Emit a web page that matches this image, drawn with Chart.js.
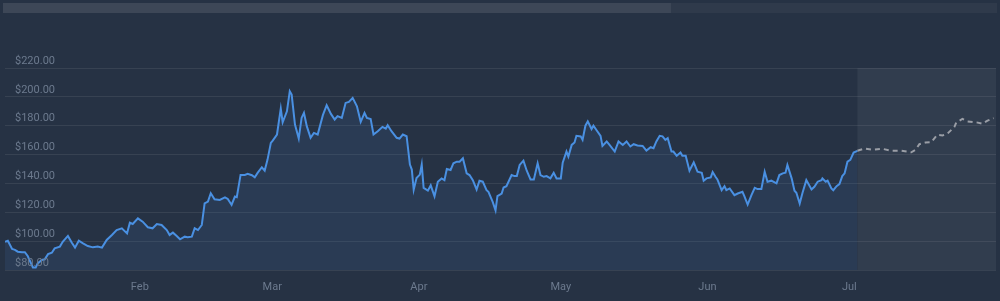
<!DOCTYPE html>
<html>
<head>
<meta charset="utf-8">
<script src="https://cdn.jsdelivr.net/npm/chart.js@4"></script>
<style>
  html, body { margin: 0; padding: 0; background: #263244; }
  #wrap { width: 1000px; height: 301px; position: relative; }
</style>
</head>
<body>
<div id="wrap"><canvas id="chart"></canvas></div>
<script>
// day of year (Jan 1 = 0) and closing price
const days = [
  2.5, 3.1, 4.0, 4.6, 5.2, 6.1, 6.7, 7.3, 8.4, 9.0, 9.4, 10.3, 10.9, 11.6, 12.4, 13.0, 14.1, 14.7, 15.8, 16.6,
  17.3, 18.1, 19.0, 20.0, 21.1, 22.1, 23.0, 24.0, 25.1, 26.1, 27.2, 28.3, 28.9, 29.5, 30.6, 31.6, 32.7, 33.7, 34.6, 35.6,
  36.7, 37.3, 38.0, 38.8, 39.5, 40.5, 41.1, 42.0, 42.6, 43.3, 44.1, 44.7, 45.4, 46.0, 46.8, 47.9, 49.0, 49.6, 50.4, 51.1,
  51.5, 52.3, 53.2, 53.8, 54.7, 55.3, 55.9, 56.8, 57.4, 58.0, 58.7, 59.1, 60.0, 60.8, 61.2, 62.1, 62.7, 63.1, 63.8, 64.6,
  65.2, 65.7, 66.3, 67.1, 67.8, 68.6, 69.7, 70.5, 71.4, 72.2, 72.8, 73.7, 74.5, 75.2, 76.0, 76.9, 77.7, 78.5, 79.0, 79.8,
  80.4, 81.3, 82.3, 83.0, 83.4, 84.2, 85.3, 85.9, 86.6, 87.4, 88.1, 88.5, 88.9, 89.5, 90.2, 90.6, 91.0, 91.9, 92.5, 93.3,
  94.0, 94.8, 95.4, 95.9, 96.7, 97.3, 98.0, 98.6, 99.3, 100.1, 100.7, 101.4, 102.2, 102.8, 103.5, 104.3, 104.7, 105.6, 106.2, 106.6,
  107.5, 107.9, 108.5, 109.6, 110.2, 110.7, 111.3, 112.1, 112.8, 113.6, 114.3, 115.1, 115.7, 116.4, 117.0, 117.8, 118.5, 119.1, 120.0, 120.4,
  121.2, 121.6, 122.3, 122.9, 123.3, 124.2, 124.6, 125.2, 125.7, 126.5, 126.9, 127.6, 128.4, 128.8, 129.7, 130.3, 131.4, 132.2, 133.1, 133.9,
  134.7, 135.4, 136.2, 137.3, 138.1, 139.0, 139.6, 140.2, 140.9, 141.5, 142.1, 142.6, 143.4, 143.8, 144.5, 145.3, 145.7, 146.4, 147.2, 148.1,
  148.9, 149.8, 150.2, 150.8, 151.7, 152.1, 152.7, 153.1, 154.0, 154.6, 155.0, 155.7, 156.7, 157.4, 158.4, 158.8, 159.5, 160.3, 161.0, 161.6,
  162.4, 163.1, 163.7, 164.5, 165.6, 166.2, 166.9, 167.5, 167.9, 168.8, 169.4, 169.8, 170.5, 171.1, 171.9, 173.0, 173.6, 174.3, 175.1, 175.3,
  176.0, 176.4, 177.2, 177.6, 178.3, 178.9, 179.5, 180.0, 180.6, 181.2, 181.9, 182.7
];
const prices = [
  99.6, 100.3, 94.6, 94.0, 92.7, 92.3, 92.3, 89.7, 81.8, 81.8, 84.6, 87.0, 87.4, 91.0, 92.0, 95.0, 96.2, 99.6, 103.6, 99.0,
  95.5, 100.3, 98.5, 96.6, 95.7, 96.2, 95.5, 100.8, 104.3, 107.7, 108.9, 105.4, 112.8, 111.9, 115.8, 113.5, 109.6, 108.9, 111.9, 111.2,
  107.7, 104.3, 105.9, 103.6, 101.3, 103.1, 102.7, 103.1, 108.9, 107.7, 111.2, 126.2, 127.4, 133.2, 129.0, 128.6, 130.4, 129.2, 125.1, 130.9,
  130.5, 145.9, 145.9, 146.6, 145.7, 144.3, 147.3, 151.2, 148.9, 156.5, 168.1, 169.7, 173.9, 191.9, 182.4, 190.0, 203.9, 201.6, 180.8, 171.1,
  185.4, 188.9, 179.7, 171.6, 175.0, 173.9, 187.3, 194.2, 188.2, 184.3, 186.6, 185.4, 195.8, 196.5, 199.3, 193.5, 182.7, 188.9, 185.4, 184.7,
  173.9, 176.2, 179.2, 178.0, 180.3, 176.2, 171.6, 171.1, 173.9, 172.7, 153.1, 149.6, 135.7, 143.8, 146.1, 153.1, 136.9, 135.0, 138.7, 131.1,
  141.2, 143.5, 142.3, 150.0, 149.3, 154.0, 155.1, 155.1, 157.4, 147.0, 145.8, 142.3, 135.8, 141.9, 141.2, 135.3, 134.2, 127.2, 121.4, 131.2,
  133.0, 137.2, 138.1, 145.8, 145.1, 145.1, 152.8, 155.8, 148.8, 142.8, 142.8, 153.9, 145.8, 144.6, 145.1, 143.5, 147.4, 143.5, 143.5, 154.4,
  162.1, 158.6, 166.7, 168.4, 173.0, 172.6, 170.2, 180.0, 183.0, 177.7, 180.0, 176.7, 173.0, 166.0, 169.1, 166.7, 162.1, 169.1, 166.7, 169.1,
  165.6, 167.2, 166.3, 166.0, 162.8, 165.1, 164.4, 169.1, 173.0, 172.6, 170.2, 171.4, 162.1, 162.1, 159.1, 161.4, 159.1, 159.1, 148.8, 154.6,
  148.1, 147.4, 141.9, 143.5, 144.2, 147.9, 144.6, 142.8, 135.3, 138.1, 135.3, 136.5, 131.9, 133.0, 134.2, 131.2, 125.3, 131.9, 137.0, 136.1,
  136.1, 148.1, 141.2, 141.9, 140.0, 145.8, 147.0, 147.4, 152.8, 143.5, 134.9, 133.5, 126.0, 133.5, 142.3, 135.8, 137.7, 141.2, 142.3, 143.5,
  141.2, 141.9, 136.5, 135.3, 138.1, 139.5, 145.1, 147.0, 155.1, 156.3, 161.4, 162.6
];
const forecastDays = [182.7, 184.2, 185.9, 188.0, 189.9, 192.0, 194.1, 195.0, 195.8, 197.1, 198.3,
  199.6, 200.7, 201.7, 203.2, 203.6, 204.9, 206.0, 207.9, 209.1, 210.2, 211.5];
const forecastPrices = [162.6, 164.2, 163.3, 164.0, 162.6, 162.6, 161.6, 163.3, 167.2, 168.4, 168.6,
  173.7, 173.3, 174.4, 179.1, 182.3, 184.7, 183.0, 182.3, 181.4, 183.5, 185.3];
const monthLabels = ['Feb', 'Mar', 'Apr', 'May', 'Jun', 'Jul'];
const monthStarts = [31, 59, 90, 120, 151, 181];

const labelColor = '#6c7a8e';

// scroller strip at the top + grey zone behind the forecast
const backdrop = {
  id: 'backdrop',
  beforeDraw(chart) {
    const { ctx, chartArea: a, scales: { x } } = chart;
    ctx.save();
    ctx.fillStyle = '#2f3a4b';
    ctx.fillRect(3, 3, chart.width - 6, 10);
    ctx.fillStyle = '#3d4757';
    ctx.fillRect(3, 3, (chart.width - 6) * 0.672, 10);
    const fx = x.getPixelForValue(forecastDays[0]);
    ctx.fillStyle = 'rgba(255,255,255,0.055)';
    ctx.fillRect(fx, a.top, a.right - fx, a.bottom - a.top);
    ctx.restore();
  }
};

new Chart(document.getElementById('chart'), {
  type: 'line',
  data: {
    datasets: [{
      data: days.map((d, i) => ({ x: d, y: prices[i] })),
      borderColor: '#4a90e2',
      borderWidth: 2,
      backgroundColor: 'rgba(74,144,226,0.1)',
      fill: 'start',
      pointRadius: 0,
      tension: 0
    }, {
      data: forecastDays.map((d, i) => ({ x: d, y: forecastPrices[i] })),
      borderColor: '#9a9ea6',
      borderWidth: 2,
      borderDash: [5, 4],
      fill: false,
      pointRadius: 0,
      tension: 0
    }]
  },
  options: {
    responsive: true,
    maintainAspectRatio: false,
    animation: false,
    layout: { padding: { top: 68, left: 5, right: 4, bottom: 8 } },
    plugins: { legend: { display: false }, tooltip: { enabled: false } },
    scales: {
      x: {
        type: 'linear',
        min: 2.5,
        max: 212,
        afterBuildTicks: s => { s.ticks = monthStarts.map(v => ({ value: v })); },
        afterFit: s => { s.height = 23; },
        ticks: {
          autoSkip: false,
          maxRotation: 0,
          padding: 11,
          color: labelColor,
          font: { family: 'Roboto', size: 11 },
          callback: v => monthLabels[monthStarts.indexOf(v)]
        },
        grid: { display: false, drawTicks: false },
        border: { display: false }
      },
      y: {
        min: 80,
        max: 220,
        afterFit: s => { s.width = 0; },
        ticks: {
          stepSize: 20,
          mirror: true,
          padding: 10,
          labelOffset: -7,
          z: 1,
          color: labelColor,
          font: { family: 'Roboto', size: 11 },
          callback: v => '$' + v.toFixed(2)
        },
        grid: { color: 'rgba(255,255,255,0.08)', drawTicks: false },
        border: { display: false }
      }
    }
  },
  plugins: [backdrop]
});
</script>
</body>
</html>
